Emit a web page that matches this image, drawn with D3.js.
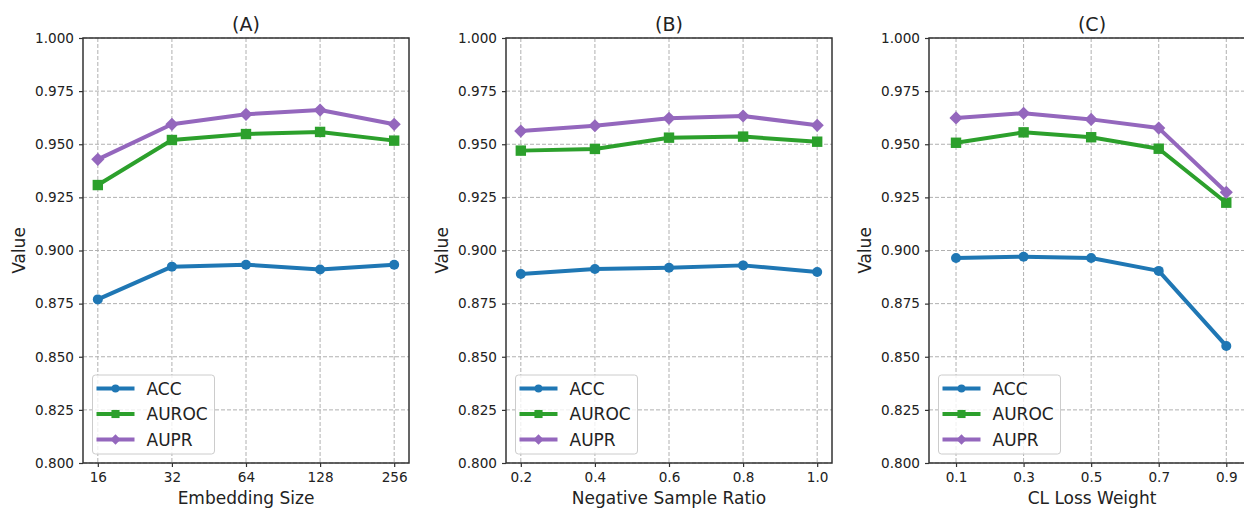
<!DOCTYPE html>
<html>
<head>
<meta charset="utf-8">
<script src="https://cdn.jsdelivr.net/npm/d3@7"></script>
<style>
  body { margin: 0; background: #fff; }
  svg { display: block; font-family: "DejaVu Sans", sans-serif; }
</style>
</head>
<body>
<svg id="chart" width="1244" height="509"></svg>
<script>
// panel titles and axis labels
const panelTitles = ["(A)", "(B)", "(C)"];
const xLabels = ["Embedding Size", "Negative Sample Ratio", "CL Loss Weight"];
const seriesNames = ["ACC", "AUROC", "AUPR"];

// x values of each panel
const embedSizes = ["16", "32", "64", "128", "256"];
const negRatios = [0.2, 0.4, 0.6, 0.8, 1.0];
const clWeights = [0.1, 0.3, 0.5, 0.7, 0.9];

// (A) embedding size
const accA   = [0.8770, 0.8924, 0.8933, 0.8911, 0.8933];
const aurocA = [0.9308, 0.9520, 0.9548, 0.9558, 0.9517];
const auprA  = [0.9429, 0.9594, 0.9641, 0.9661, 0.9594];

// (B) negative sample ratio
const accB   = [0.8889, 0.8913, 0.8919, 0.8930, 0.8899];
const aurocB = [0.9470, 0.9478, 0.9531, 0.9536, 0.9512];
const auprB  = [0.9562, 0.9587, 0.9622, 0.9633, 0.9589];

// (C) CL loss weight
const accC   = [0.8965, 0.8971, 0.8965, 0.8904, 0.8551];
const aurocC = [0.9507, 0.9556, 0.9533, 0.9479, 0.9225];
const auprC  = [0.9624, 0.9646, 0.9617, 0.9576, 0.9274];

// y axis ticks
const yTicks = [0.800, 0.825, 0.850, 0.875, 0.900, 0.925, 0.950, 0.975, 1.000];

const colors = ["#1f77b4", "#2ca02c", "#9467bd"];
const FONT = "DejaVu Sans, sans-serif";

// marker shapes: circle, square, diamond (rotated square)
function marker(sel, k, s) {
  if (k === 0) {
    sel.append("circle").attr("r", 5 * s).attr("fill", colors[k]);
  } else if (k === 1) {
    const h = 5.2 * s;
    sel.append("rect").attr("x", -h).attr("y", -h).attr("width", 2 * h).attr("height", 2 * h)
      .attr("fill", colors[k]);
  } else {
    const h = 6.6 * s;
    sel.append("path").attr("d", `M0,${-h}L${h},0L0,${h}L${-h},0Z`).attr("fill", colors[k]);
  }
}

const panels = [
  { xs: embedSizes, series: [accA, aurocA, auprA], kind: "band" },
  { xs: negRatios, series: [accB, aurocB, auprB], kind: "linear", domain: [0.16, 1.04] },
  { xs: clWeights, series: [accC, aurocC, auprC], kind: "linear", domain: [0.02, 0.985] }
];

const svg = d3.select("#chart");
const plotTop = 38, plotBottom = 463, plotW = 326;
const lefts = [83, 506, 929];

const y = d3.scaleLinear().domain([0.8, 1.0]).range([plotBottom, plotTop]);

panels.forEach((p, i) => {
  const left = lefts[i];
  let x;
  if (p.kind === "band") {
    x = d3.scaleLinear().domain([-0.2, p.xs.length - 0.8]).range([left, left + plotW]);
  } else {
    x = d3.scaleLinear().domain(p.domain).range([left, left + plotW]);
  }
  const xPos = (d, j) => p.kind === "band" ? x(j) : x(d);
  const g = svg.append("g");

  // grid
  g.selectAll(".hgrid").data(yTicks).enter().append("line")
    .attr("x1", left).attr("x2", left + plotW)
    .attr("y1", d => y(d)).attr("y2", d => y(d))
    .attr("stroke", "#b0b0b0").attr("stroke-width", 1)
    .attr("stroke-dasharray", "4,2");
  g.selectAll(".vgrid").data(p.xs).enter().append("line")
    .attr("x1", xPos).attr("x2", xPos)
    .attr("y1", plotTop).attr("y2", plotBottom)
    .attr("stroke", "#b0b0b0").attr("stroke-width", 1)
    .attr("stroke-dasharray", "4,2");

  // y axis
  const yAxis = d3.axisLeft(y).tickValues(yTicks).tickFormat(d3.format(".3f")).tickSize(4).tickPadding(5);
  const ya = g.append("g").attr("transform", `translate(${left},0)`).call(yAxis)
    .attr("font-family", FONT);
  ya.select(".domain").remove();
  ya.selectAll("line").attr("stroke", "#333").attr("stroke-width", 1.2);
  ya.selectAll("text").attr("font-size", 13.6).attr("fill", "#222");

  // x axis
  const xAxis = d3.axisBottom(x)
    .tickValues(p.kind === "band" ? d3.range(p.xs.length) : p.xs)
    .tickFormat(p.kind === "band" ? (d => p.xs[d]) : d3.format(".1f"))
    .tickSize(4).tickPadding(5);
  const xa = g.append("g").attr("transform", `translate(0,${plotBottom})`).call(xAxis)
    .attr("font-family", FONT);
  xa.select(".domain").remove();
  xa.selectAll("line").attr("stroke", "#333").attr("stroke-width", 1.2);
  xa.selectAll("text").attr("font-size", 13.6).attr("fill", "#222");

  // series lines and markers
  p.series.forEach((vals, k) => {
    const line = d3.line().x((d, j) => xPos(p.xs[j], j)).y(d => y(d));
    g.append("path").datum(vals)
      .attr("d", line).attr("fill", "none")
      .attr("stroke", colors[k]).attr("stroke-width", 4)
      .attr("stroke-linejoin", "round");
    g.selectAll(".m" + k).data(vals).enter().append("g")
      .attr("transform", (d, j) => `translate(${xPos(p.xs[j], j)},${y(d)})`)
      .each(function () { marker(d3.select(this), k, 1); });
  });

  // frame
  g.append("rect").attr("x", left).attr("y", plotTop)
    .attr("width", plotW).attr("height", plotBottom - plotTop)
    .attr("fill", "none").attr("stroke", "#333").attr("stroke-width", 1.5);

  // legend
  const lg = g.append("g").attr("transform", `translate(${left + 9.5},375)`);
  lg.append("rect").attr("width", 122).attr("height", 79).attr("rx", 3)
    .attr("fill", "#fff").attr("fill-opacity", 0.8)
    .attr("stroke", "#ccc").attr("stroke-width", 1);
  seriesNames.forEach((name, k) => {
    const cy = 13.5 + k * 25.5;
    lg.append("line").attr("x1", 4).attr("x2", 42).attr("y1", cy).attr("y2", cy)
      .attr("stroke", colors[k]).attr("stroke-width", 4);
    marker(lg.append("g").attr("transform", `translate(23,${cy})`), k, 0.78);
    lg.append("text").attr("x", 54).attr("y", cy).attr("dy", "0.36em")
      .attr("font-size", 17).attr("fill", "#222").text(name);
  });

  // titles and labels
  g.append("text").attr("x", left + plotW / 2).attr("y", 31)
    .attr("text-anchor", "middle").attr("font-size", 19).attr("fill", "#222")
    .text(panelTitles[i]);
  g.append("text").attr("x", left + plotW / 2).attr("y", 504)
    .attr("text-anchor", "middle").attr("font-size", 17).attr("fill", "#222")
    .text(xLabels[i]);
  g.append("text")
    .attr("transform", `translate(${left - 64},${(plotTop + plotBottom) / 2}) rotate(-90)`)
    .attr("text-anchor", "middle").attr("dy", "0.36em")
    .attr("font-size", 17).attr("fill", "#222").text("Value");
});
</script>
</body>
</html>
